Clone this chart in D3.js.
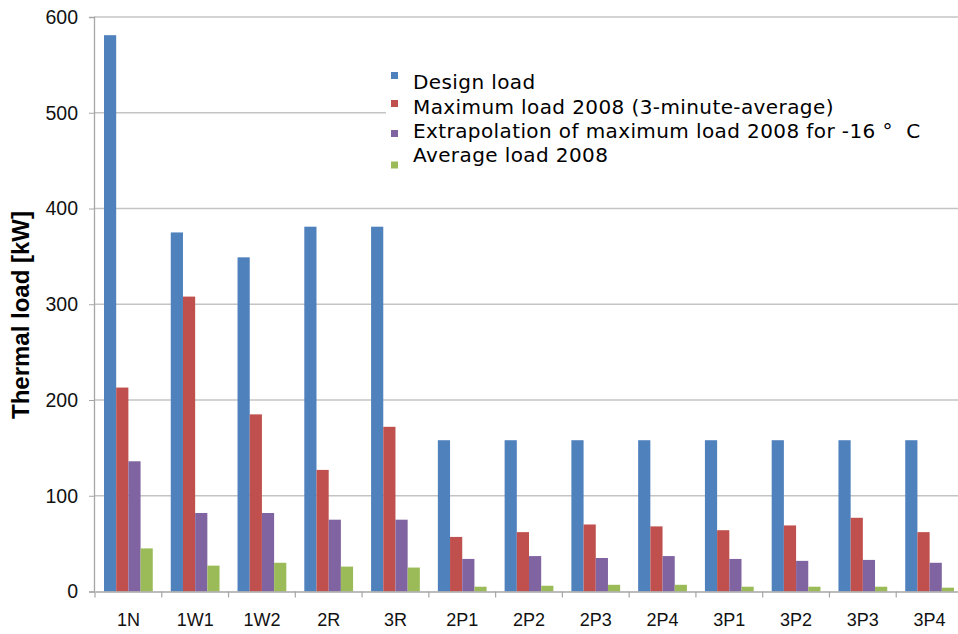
<!DOCTYPE html>
<html>
<head>
<meta charset="utf-8">
<script src="https://cdn.jsdelivr.net/npm/d3@7"></script>
<style>
  html, body { margin: 0; padding: 0; background: #fff; }
  svg { display: block; }
</style>
</head>
<body>
<div id="chart"></div>
<script>
const categories = ["1N", "1W1", "1W2", "2R", "3R", "2P1", "2P2", "2P3", "2P4", "3P1", "3P2", "3P3", "3P4"];
const designLoad = [581, 375, 349, 381, 381, 158, 158, 158, 158, 158, 158, 158, 158];
const maxLoad2008 = [213, 308, 185, 127, 172, 57, 62, 70, 68, 64, 69, 77, 62];
const extrapolation = [136, 82, 82, 75, 75, 34, 37, 35, 37, 34, 32, 33, 30];
const avgLoad2008 = [45, 27, 30, 26, 25, 5, 6, 7, 7, 5, 5, 5, 4];
const seriesNames = [
  "Design load",
  "Maximum load 2008 (3-minute-average)",
  "Extrapolation of maximum load 2008 for -16\u00A0\u00B0\u00A0\u00A0C",
  "Average load 2008"
];
const seriesColors = ["#4F81BD", "#C0504D", "#8064A2", "#9BBB59"];
const yTicks = [0, 100, 200, 300, 400, 500, 600];
const yTitle = "Thermal load [kW]";

const seriesValues = [designLoad, maxLoad2008, extrapolation, avgLoad2008];

const W = 958, H = 634;
const plotLeft = 94, plotRight = 963, plotTop = 17, plotBottom = 591.5;

const svg = d3.select("#chart").append("svg")
  .attr("width", W).attr("height", H);

const x = d3.scaleBand().domain(categories).range([plotLeft + 1, plotRight]).paddingInner(0).paddingOuter(0);
const gap = 9;
const xs = d3.scaleBand().domain(d3.range(seriesValues.length))
  .range([gap, x.bandwidth() - gap]).padding(0);
const y = d3.scaleLinear().domain([0, 600]).range([plotBottom, plotTop]);

// gridlines
svg.append("g").selectAll("line")
  .data(yTicks.filter(d => d > 0))
  .join("line")
  .attr("x1", plotLeft).attr("x2", W)
  .attr("y1", d => y(d)).attr("y2", d => y(d))
  .attr("stroke", "#c4c4c4").attr("stroke-width", 1.3);

// bars
const rows = categories.map((c, i) => ({ cat: c, vals: seriesValues.map(s => s[i]) }));
svg.append("g").selectAll("g")
  .data(rows)
  .join("g")
  .attr("transform", d => `translate(${x(d.cat)},0)`)
  .selectAll("rect")
  .data(d => d.vals.map((v, k) => ({ v, k })))
  .join("rect")
  .attr("x", d => xs(d.k))
  .attr("width", xs.bandwidth())
  .attr("y", d => y(d.v))
  .attr("height", d => y(0) - y(d.v))
  .attr("fill", d => seriesColors[d.k]);

// y axis
const yAxis = d3.axisLeft(y).tickValues(yTicks).tickSize(5).tickPadding(11).tickFormat(d3.format("d"));
const gy = svg.append("g").attr("transform", `translate(${plotLeft},0)`).call(yAxis);
gy.select(".domain").attr("stroke", "#a6a6a6").attr("stroke-width", 1.3);
gy.selectAll(".tick line").attr("stroke", "#a6a6a6");
gy.selectAll(".tick text")
  .attr("font-family", "Liberation Sans, Arial, sans-serif")
  .attr("font-size", 19.5).attr("fill", "#111");

// x axis
const xAxis = d3.axisBottom(x).tickSize(0).tickPadding(22);
const gx = svg.append("g").attr("transform", `translate(0,${plotBottom})`).call(xAxis);
gx.select(".domain").attr("stroke", "#a6a6a6").attr("stroke-width", 1.3);
gx.selectAll(".tick text")
  .attr("font-family", "Liberation Sans, Arial, sans-serif")
  .attr("font-size", 18).attr("fill", "#111");
// category boundary tick marks
const boundaries = categories.map(c => x(c)).concat([x(categories[categories.length - 1]) + x.bandwidth()]);
gx.append("g").selectAll("line")
  .data(boundaries)
  .join("line")
  .attr("x1", d => d).attr("x2", d => d)
  .attr("y1", 0).attr("y2", 6)
  .attr("stroke", "#a6a6a6").attr("stroke-width", 1.2);

// y title
svg.append("text")
  .attr("transform", `translate(29,${(212 + 418) / 2}) rotate(-90)`)
  .attr("text-anchor", "middle")
  .attr("font-family", "Liberation Sans, Arial, sans-serif")
  .attr("font-weight", "bold")
  .attr("font-size", 24)
  .attr("fill", "#000")
  .text(yTitle);

// legend
const legend = svg.append("g");
legend.append("rect")
  .attr("x", 386).attr("y", 60).attr("width", W - 386).attr("height", 118)
  .attr("fill", "#fff");
const textBaselines = [89, 113.5, 138, 162];
const markerCenters = [75.5, 103.5, 133.5, 165];
const lg = legend.selectAll("g.item")
  .data(seriesNames)
  .join("g").attr("class", "item");
lg.append("rect")
  .attr("x", 391).attr("y", (d, i) => markerCenters[i] - 3.5)
  .attr("width", 7).attr("height", 7)
  .attr("fill", (d, i) => seriesColors[i]);
lg.append("text")
  .attr("x", 413).attr("y", (d, i) => textBaselines[i])
  .attr("font-family", "DejaVu Sans, Verdana, sans-serif")
  .attr("font-size", 20).attr("letter-spacing", 0.4).attr("fill", "#000")
  .text(d => d);
</script>
</body>
</html>
